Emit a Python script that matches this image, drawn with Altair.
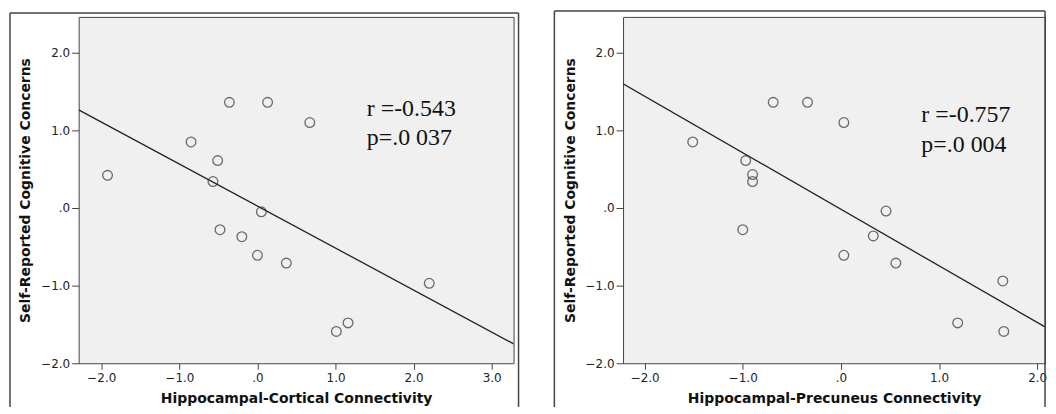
import altair as alt
import pandas as pd

# ---- data ----
cortical_x = [-1.92, -0.85, -0.36, 0.13, 0.67, -0.51, -0.57, 0.05, -0.48, -0.20, 0.00, 0.37, 2.20, 1.16, 1.01]
cortical_y = [0.42, 0.85, 1.36, 1.36, 1.10, 0.61, 0.34, -0.05, -0.28, -0.37, -0.61, -0.71, -0.97, -1.48, -1.59]

precuneus_x = [-1.51, -0.69, -0.34, 0.03, -0.97, -0.90, -0.90, 0.46, -1.00, 0.33, 0.03, 0.56, 1.65, 1.19, 1.66]
precuneus_y = [0.85, 1.36, 1.36, 1.10, 0.61, 0.43, 0.34, -0.04, -0.28, -0.36, -0.61, -0.71, -0.94, -1.48, -1.59]

y_ticks = [-2, -1, 0, 1, 2]
cortical_ticks = [-2, -1, 0, 1, 2, 3]
precuneus_ticks = [-2, -1, 0, 1, 2]

y_title = "Self-Reported Cognitive Concerns"
cortical_title = "Hippocampal-Cortical Connectivity"
precuneus_title = "Hippocampal-Precuneus Connectivity"

cortical_stats = "r =-0.543\np=.0 037"
precuneus_stats = "r =-0.757\np=.0 004"

LABEL_EXPR = "datum.value == 0 ? '.0' : format(datum.value, '.1f')"
Y_DOMAIN = [-2, 2.46]
FRAME = "#444444"

AXIS_STYLE = dict(
    labelFont="DejaVu Sans", labelFontSize=12, labelColor="#222222",
    titleFont="DejaVu Sans", titleFontSize=14, titleFontWeight="bold", titleColor="#111111",
    tickColor="#444444", domain=False, grid=False, labelExpr=LABEL_EXPR,
)


def panel(xs, ys, xdom, xticks, xtitle, width, stats, sx, sy, lh, frame_top, frame_right):
    df = pd.DataFrame({"x": xs, "y": ys})
    base = alt.Chart(df)
    xscale = alt.Scale(domain=xdom, nice=False, zero=False)
    yscale = alt.Scale(domain=Y_DOMAIN, nice=False, zero=False)
    xenc = alt.X(
        "x:Q",
        scale=xscale,
        axis=alt.Axis(values=xticks, title=xtitle, labelPadding=3, titlePadding=8,
                      tickSize=6, **AXIS_STYLE),
    )
    yenc = alt.Y(
        "y:Q",
        scale=yscale,
        axis=alt.Axis(values=y_ticks, title=y_title, labelPadding=2, titlePadding=8,
                      tickSize=7, **AXIS_STYLE),
    )
    pts = base.mark_point(shape="circle", filled=False, size=95,
                          color="#333333", strokeWidth=1.3).encode(x=xenc, y=yenc)
    fit = (
        base.transform_regression("x", "y", extent=xdom)
        .mark_line(color="#222222", strokeWidth=1.3, clip=True)
        .encode(x="x:Q", y="y:Q")
    )
    text = (
        alt.Chart(pd.DataFrame({"t": [stats]}))
        .mark_text(font="Liberation Serif", fontSize=24, align="left",
                   baseline="alphabetic", lineBreak="\n", lineHeight=lh, color="#111111")
        .encode(x=alt.datum(sx), y=alt.datum(sy), text="t:N")
    )
    fd = pd.DataFrame({"a": [0]})
    frame_left = alt.Chart(fd).mark_rule(color=FRAME, strokeWidth=1.5).encode(
        x=alt.value(-69), y=alt.value(frame_top), y2=alt.value(392))
    frame_topline = alt.Chart(fd).mark_rule(color=FRAME, strokeWidth=1.5).encode(
        x=alt.value(-69), x2=alt.value(frame_right), y=alt.value(frame_top))
    layers = [fit, pts, text, frame_left, frame_topline]
    if frame_right < width + 10:
        frame_r = alt.Chart(fd).mark_rule(color=FRAME, strokeWidth=1.5).encode(
            x=alt.value(frame_right), y=alt.value(frame_top), y2=alt.value(392))
        layers.append(frame_r)
    return alt.layer(*layers).properties(width=width, height=348)


left = panel(cortical_x, cortical_y, [-2.29, 3.28], cortical_ticks, cortical_title,
             437, cortical_stats, 1.40, 1.18, 29, -4, 442)
right = panel(precuneus_x, precuneus_y, [-2.22, 2.08], precuneus_ticks, precuneus_title,
              424, precuneus_stats, 0.82, 1.11, 30, -6, 424)

chart = (
    alt.hconcat(left, right, spacing=110, bounds="flush", padding=0, background="white")
    .configure_view(fill="#f0f0f0", stroke="#444444", strokeWidth=1)
)

chart.save("out.html", embed_options={"renderer": "svg", "actions": False})
